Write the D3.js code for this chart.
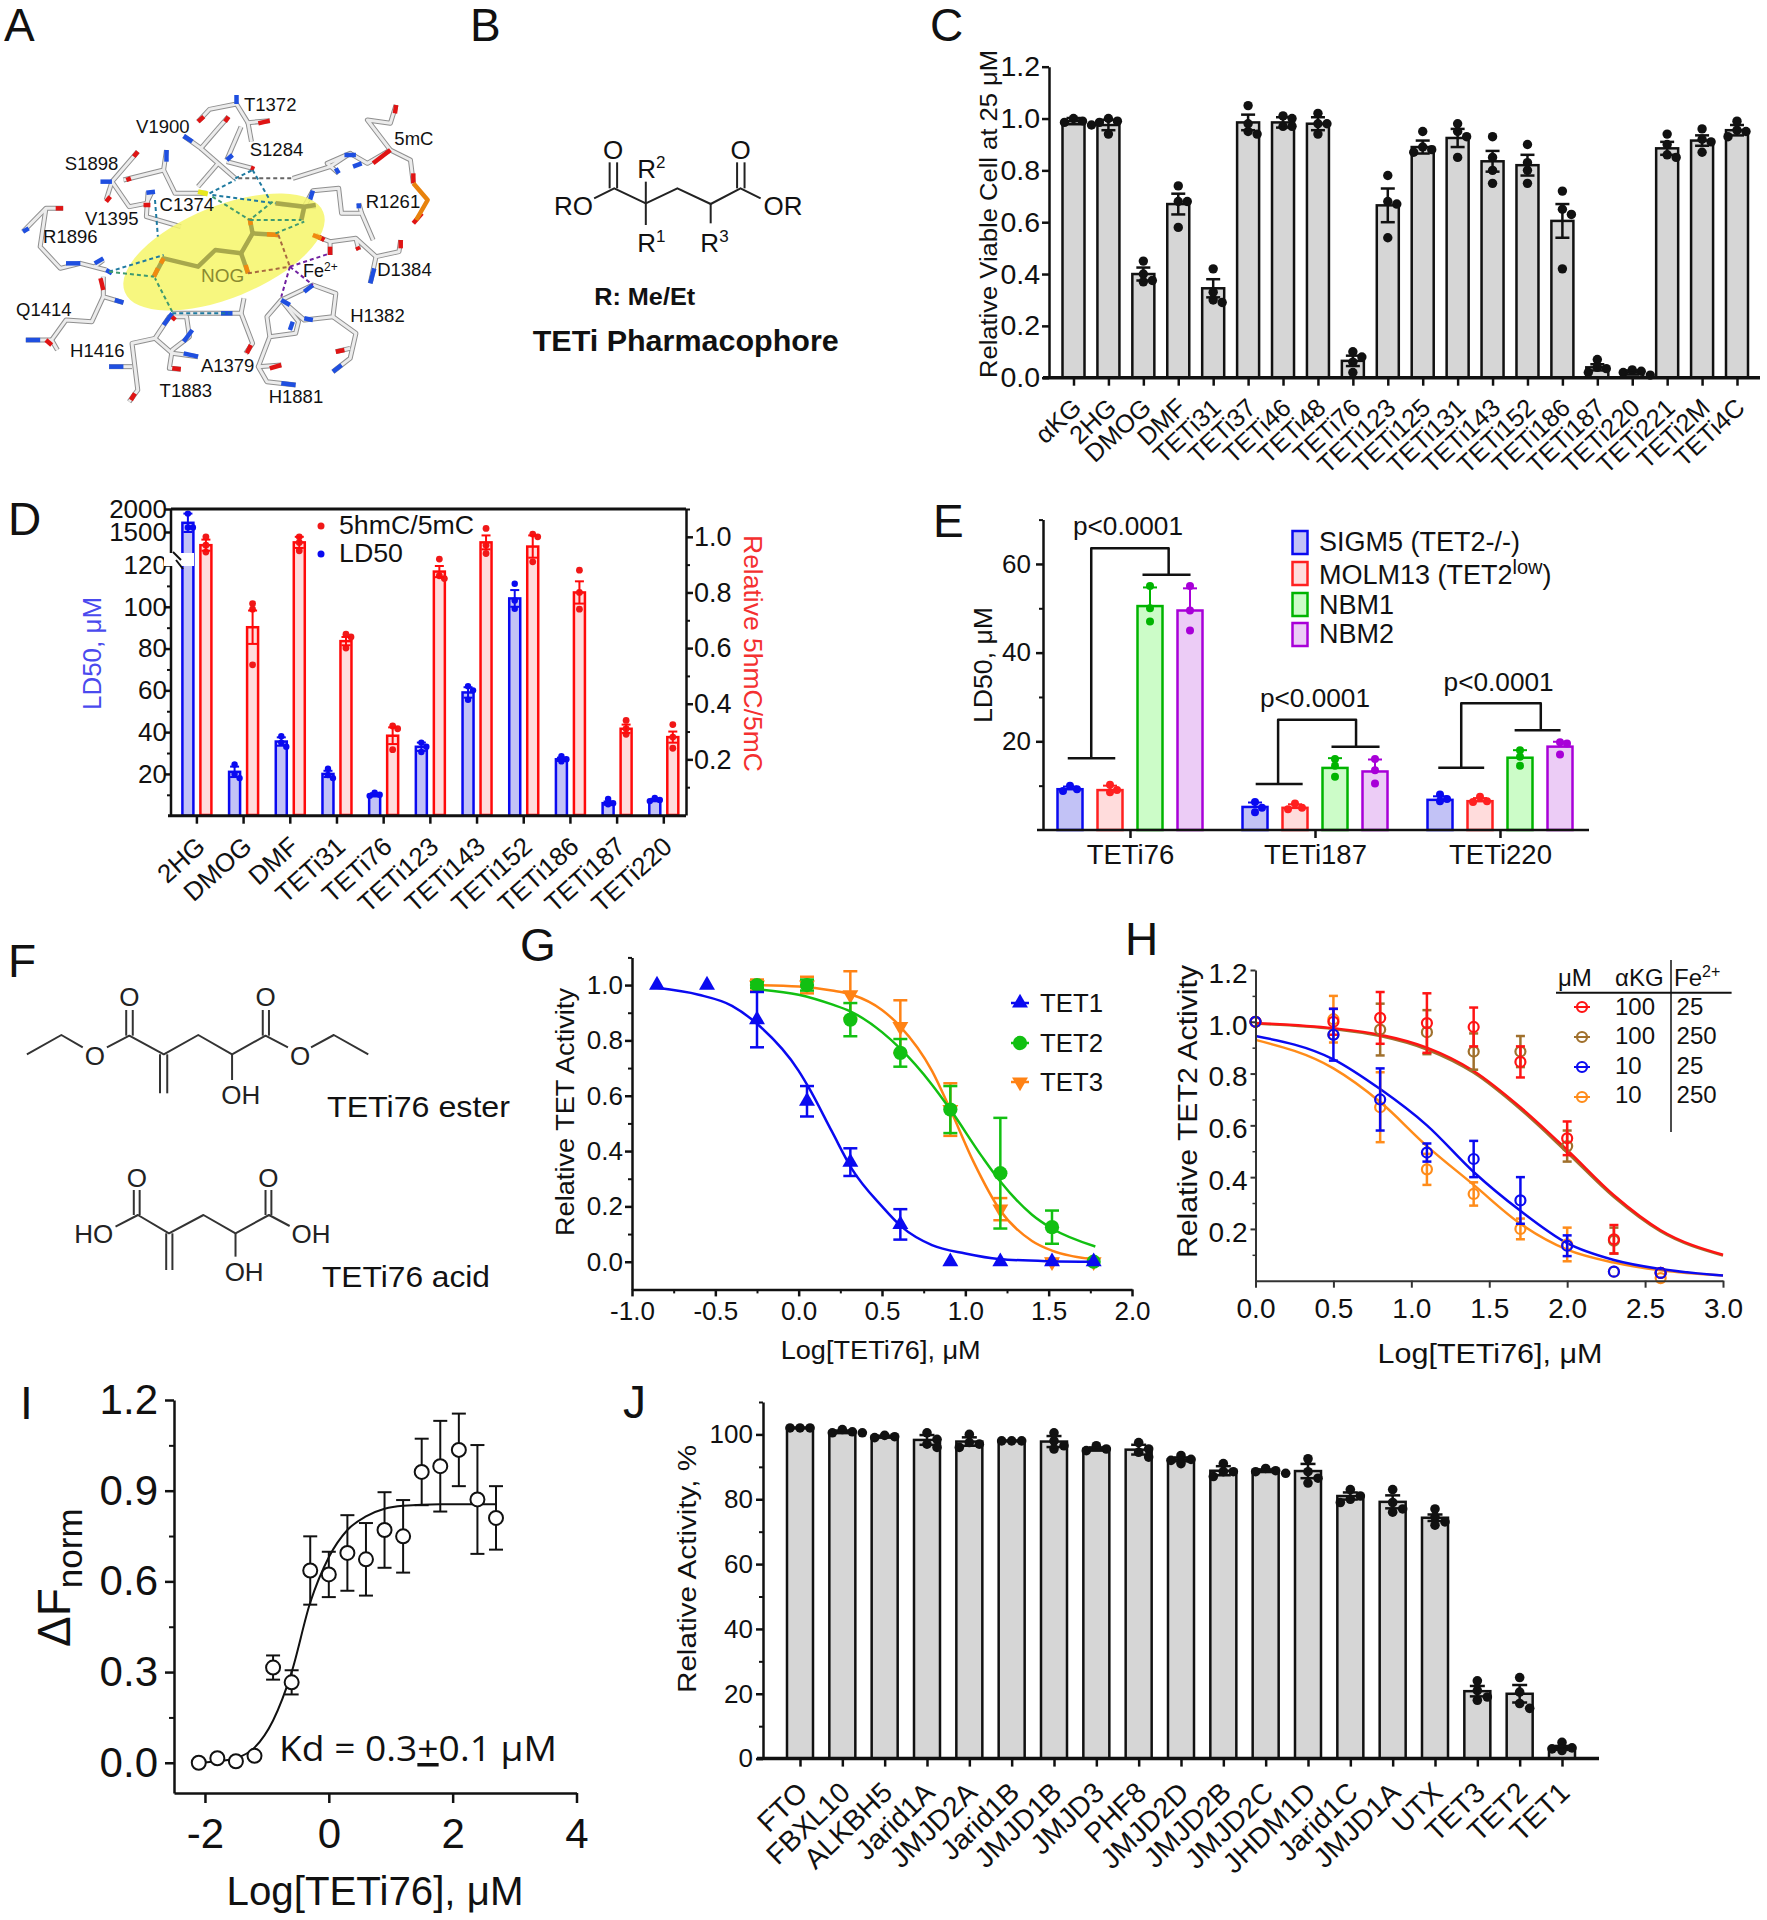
<!DOCTYPE html>
<html><head><meta charset="utf-8">
<style>html,body{margin:0;padding:0;background:#fff}svg{display:block}text{font-family:"Liberation Sans",Arial,sans-serif;fill:#111}</style>
<script src="https://cdn.jsdelivr.net/npm/d3@7/dist/d3.min.js"></script>
</head><body>
<script>
// ---------- DATA ----------
const cCats=["αKG","2HG","DMOG","DMF","TETi31","TETi37","TETi46","TETi48","TETi76","TETi123","TETi125","TETi131","TETi143","TETi152","TETi186","TETi187","TETi220","TETi221","TETi2M","TETi4C"];
const cMeans=[.99,.975,.40,.67,.345,.985,.985,.98,.065,.665,.89,.925,.835,.82,.605,.04,.02,.885,.915,.955];
const cErrs=[.012,.02,.025,.04,.035,.03,.02,.025,.02,.065,.025,.035,.04,.04,.065,.012,.008,.025,.02,.02];
const cPoints=[[1.0,.99,.985,.975],[1.0,.99,.985,.94],[.45,.40,.375,.37],[.74,.68,.68,.58],[.42,.33,.30,.29],[1.05,.98,.95,.94],[1.01,1.0,.97,.97],[1.02,.98,.98,.94],[.10,.08,.06,.02],[.78,.68,.67,.54],[.95,.89,.88,.87],[.98,.95,.93,.85],[.93,.85,.80,.75],[.90,.83,.80,.75],[.72,.65,.63,.42],[.07,.04,.035,.02],[.03,.025,.02,.01],[.94,.90,.86,.85],[.96,.92,.91,.87],[.99,.955,.95,.93]];

const dCats=["2HG","DMOG","DMF","TETi31","TETi76","TETi123","TETi143","TETi152","TETi186","TETi187","TETi220"];
const dLd50=[1700,21,35.5,20,10,33,59,104,27,6,7.5];
const dLd50Err=[200,2.5,2,1.5,.8,2,2.5,4,.8,.8,.6];
const dLd50Pts=[[1900,1600,1600],[24.5,20,18],[38,35,33],[22.5,19.5,18],[11,10,9.5],[35,33,30.5],[62,60,55.5],[111,103,99],[28.5,27,26],[8,6,5.5],[8.5,7.5,7]];
const dRatio=[.97,.675,.98,.625,.285,.875,.98,.965,.80,.31,.28];
const dRatioErr=[.02,.06,.02,.015,.03,.02,.025,.04,.04,.015,.02];
const dRatioPts=[[1.0,.97,.945],[.76,.74,.54],[1.0,.98,.95],[.65,.64,.60],[.32,.31,.235],[.92,.86,.85],[1.03,.97,.94],[1.01,1.0,.91],[.88,.80,.74],[.34,.31,.29],[.325,.28,.24]];

const eGroups=["TETi76","TETi187","TETi220"];
const eSeries=["SIGM5 (TET2-/-)","MOLM13 (TET2","NBM1","NBM2"];
const eMeans=[[9.2,9,50.5,49.5],[5.2,5,14,13.2],[6.8,6.5,16.3,18.8]];
const eErrs=[[.6,1.0,4.2,5.0],[1.0,.8,2.2,2.7],[.8,.7,1.7,1.1]];
const ePts=[[[10,9.2,8.8],[10.2,9,8.5],[55,50,47],[55,49.5,45]],[[6.3,5,4],[6,5,4.7],[16,14.5,12],[16,13.5,10.5]],[[8,7,6.5],[7.5,6.5,6.3],[18,16.5,14.5],[19.8,19.5,17]]];

const gTet1X=[-.85,-.55,-.25,.05,.31,.61,.91,1.21,1.52,1.77];
const gTet1Y=[1,1,.875,.58,.36,.135,0,0,0,0];
const gTet1E=[0,0,.1,.055,.05,.055,0,0,0,0];
const gTet2X=[-.25,.05,.31,.61,.91,1.21,1.52,1.77];
const gTet2Y=[1,1,.875,.755,.55,.32,.125,0];
const gTet2E=[.01,.02,.06,.05,.085,.2,.06,0];
const gTet3Y=[1,1,.965,.85,.55,.19,0,0];
const gTet3E=[.02,.03,.085,.095,.095,.04,.01,0];
const gFit1=[[-.85,.99],[-.6,.965],[-.4,.925],[-.25,.86],[0,.69],[.06,.63],[.2,.47],[.32,.335],[.5,.2],[.62,.125],[.8,.06],[1,.03],[1.2,.01],[1.5,.002],[1.78,0]];
const gFit2=[[-.25,.985],[0,.965],[.2,.93],[.31,.905],[.5,.83],[.61,.77],[.8,.64],[.91,.55],[1.1,.38],[1.21,.29],[1.4,.17],[1.52,.12],[1.78,.055]];
const gFit3=[[-.25,1],[0,.995],[.2,.98],[.32,.965],[.5,.91],[.61,.85],[.8,.69],[.91,.55],[1.05,.36],[1.21,.185],[1.4,.075],[1.52,.04],[1.78,.008]];

const hX=[0,.5,.8,1.1,1.4,1.7,2,2.3,2.6];
const hRedY=[1,1,1.015,.995,.98,.845,.55,.16,.03], hRedE=[0,.05,.1,.115,.075,.06,.065,.055,0];
const hBrownY=[1,.95,.97,.96,.885,.885,.52,.155,.03], hBrownE=[0,0,.1,.085,.07,.06,.06,.05,0];
const hBlueY=[1,.95,.70,.495,.47,.31,.135,.035,.03], hBlueE=[0,.1,.12,.035,.07,.09,.04,0,0];
const hOrangeY=[1,1.01,.67,.43,.335,.2,.14,.035,.01], hOrangeE=[0,.09,.135,.06,.045,.04,.065,0,0];
const hFitX=[0,.5,.8,1.1,1.4,1.7,2,2.3,2.6,3];
const hFitRed=[.995,.975,.95,.9,.81,.67,.505,.33,.195,.1];
const hFitBrown=[.993,.972,.945,.893,.803,.662,.495,.323,.19,.097];
const hFitBlue=[.945,.855,.74,.6,.42,.27,.145,.08,.045,.02];
const hFitOrange=[.93,.82,.69,.52,.37,.22,.12,.07,.04,.02];
const hLegend=[["100","25"],["100","250"],["10","25"],["10","250"]];

const iX=[-2.1,-1.8,-1.5,-1.2,-.9,-.6,-.3,0,.3,.6,.9,1.2,1.5,1.8,2.1,2.4,2.7];
const iY=[0,.015,.005,.023,.315,.266,.636,.623,.694,.673,.77,.749,.962,.981,1.035,.871,.81];
const iE=[0,0,0,0,.04,.04,.113,.075,.125,.12,.125,.12,.11,.15,.12,.18,.105];
const iFit=[[-2.1,0],[-1.8,.005],[-1.5,.015],[-1.2,.05],[-.9,.14],[-.6,.30],[-.3,.53],[0,.68],[.3,.77],[.6,.815],[.9,.84],[1.2,.85],[1.8,.855],[2.7,.855]];

const jCats=["FTO","FBXL10","ALKBH5","Jarid1A","JMJD2A","Jarid1B","JMJD1B","JMJD3","PHF8","JMJD2D","JMJD2B","JMJD2C","JHDM1D","Jarid1C","JMJD1A","UTX","TET3","TET2","TET1"];
const jMeans=[102,100.8,99.3,98.3,97.8,98,97.8,95.5,95.3,92.3,88.8,88.8,88.7,81,79.2,74.3,20.8,20,3.3];
const jErrs=[.1,.4,.3,1.5,1.3,.1,1.7,.5,1.5,.6,1.4,.4,2.2,1.1,2,1,1.6,2.7,.6];
const jPts=[[102,102,102],[101.5,100.8,100.5,100.5],[99.7,99.3,99],[100.5,98.5,97,96],[100,97.5,97,96],[98,98,98],[100.5,98,96.5,95.5],[96.5,95.5,95],[97.5,95.5,94.5,93],[93.5,92.3,92,91],[91,88.5,88.5,87],[89.5,88.8,88.5,88],[92.5,88.5,86.5,85],[83,81,80,79],[83,79,77,76],[77,74.5,73,72],[24,21,19,18],[25,20.5,17,15.5],[5,3.3,3,2.5]];

const panelLetters=[["A",4,41],["B",470,41],["C",930,41],["D",8,535],["E",933,537],["F",8,977],["G",520,961],["H",1125,955],["I",20,1419],["J",623,1418]];

// ---------- HELPERS ----------
const svg=d3.select("body").append("svg").attr("width",1767).attr("height",1920).attr("viewBox","0 0 1767 1920");
svg.append("rect").attr("width",1767).attr("height",1920).attr("fill","#fff");
function T(g,x,y,s,o={}){
  const t=g.append("text").attr("x",0).attr("y",0).text(s)
    .attr("transform",`translate(${x},${y})`+(o.rot?` rotate(${o.rot})`:""))
    .style("font-size",(o.size||26)+"px").attr("text-anchor",o.anchor||"start");
  if(o.fill)t.style("fill",o.fill);
  if(o.weight)t.style("font-weight",o.weight);
  if(o.family)t.style("font-family",o.family);
  if(o.len)t.attr("textLength",o.len).attr("lengthAdjust","spacingAndGlyphs");
  return t;
}
function ax(g,gen,size,w,color){
  g.call(gen);
  g.selectAll("text").style("font-size",size+"px");
  g.selectAll("line").attr("stroke",color||"#111").attr("stroke-width",w||2.5);
  g.selectAll("path").attr("stroke",color||"#111").attr("stroke-width",w||2.5);
  return g;
}
function swarm(vals,y,r,step){
  const placed=[];
  return vals.map(v=>{
    const py=y(v);let off=0,k=0;
    const clash=o=>placed.some(p=>Math.hypot(p[0]-o,p[1]-py)<r*1.5);
    while(clash(off)&&k<8){k++;off=(k%2?1:-1)*Math.ceil(k/2)*step;}
    placed.push([off,py]);return off;
  });
}
function errBar(g,x,y0,y1,cap,color,w){
  g.append("line").attr("x1",x).attr("x2",x).attr("y1",y0).attr("y2",y1).attr("stroke",color).attr("stroke-width",w);
  [y0,y1].forEach(v=>g.append("line").attr("x1",x-cap/2).attr("x2",x+cap/2).attr("y1",v).attr("y2",v).attr("stroke",color).attr("stroke-width",w));
}
function dots(g,x,vals,y,r,color,step){
  const off=swarm(vals,y,r,step);
  vals.forEach((v,i)=>g.append("circle").attr("cx",x+off[i]).attr("cy",y(v)).attr("r",r).attr("fill",color));
}
function poly(g,pts,fx,fy,stroke,w,extra){
  const l=g.append("path").attr("d",d3.line().x(p=>fx(p[0])).y(p=>fy(p[1]))(pts)).attr("fill","none").attr("stroke",stroke).attr("stroke-width",w).attr("stroke-linejoin","round");
  if(extra)l.attr("stroke-dasharray",extra);
  return l;
}
panelLetters.forEach(p=>T(svg,p[1],p[2],p[0],{size:46}));

// ---------- A ----------
(function(){
  const g=svg.append("g"),fx=v=>v/1.742,fy=v=>v/3;
  const sticks=[
   [[345,365],[365,328],[412,312],[432,368],[470,362]],[[432,368],[438,425]],
   [[320,408],[350,445],[380,385],[398,350]],[[350,445],[410,535]],[[380,490],[345,560]],
   [[395,480],[420,380]],[[395,485],[440,505]],
   [[240,455],[195,545],[225,620],[255,610],[265,575]],[[195,545],[185,600]],
   [[215,540],[285,510],[290,450]],[[285,510],[305,580],[360,580]],[[258,575],[255,650],[315,680]],
   [[110,625],[80,625],[40,695]],[[80,625],[70,740],[105,805],[140,790],[185,810]],[[180,780],[165,800]],
   [[180,830],[180,890],[215,908]],[[180,890],[160,965],[115,960],[90,1020],[100,1050]],[[90,1020],[45,1020]],
   [[225,1205],[240,1170],[230,1030],[270,1015],[295,950],[325,950],[330,1010],[300,1050],[295,1105],[315,1108]],
   [[230,1100],[190,1100]],[[270,1015],[300,1060],[345,1070]],
   [[300,940],[420,940],[440,1030],[428,1060]],[[420,940],[425,895]],
   [[515,1155],[465,1145],[450,1100],[490,1095]],[[450,1100],[470,1010],[515,1000],[520,965],[490,900],[465,950],[470,1010]],
   [[490,900],[545,855],[585,880],[580,950],[530,960],[490,900]],[[580,950],[620,1000],[610,1075],[580,1115]],[[610,1045],[585,1055]],
   [[645,850],[655,770],[695,755],[698,720]],[[655,770],[620,715],[575,725],[545,705]],[[575,725],[575,765]],[[620,715],[625,750]],
   [[650,720],[630,640],[595,640],[590,565],[545,572],[530,620],[480,610]],[[530,620],[550,620]],[[530,620],[525,660]],[[630,640],[625,610]],
   [[510,535],[575,500],[610,460],[570,490],[590,520]],[[610,460],[640,490],[680,450],[715,480],[720,550]],[[680,450],[640,360],[680,370],[690,315]]
  ];
  sticks.forEach(s=>poly(g,s,fx,fy,"#8f8f8f",5));
  sticks.forEach(s=>poly(g,s,fx,fy,"#ececec",3));
  const blue=[[412,285,412,312],[320,408,335,425],[290,450,290,485],[175,545,195,545],[270,575,255,578],[40,695,50,685],[115,790,140,790],[180,775,165,790],[185,810,195,820],[215,908,200,900],[45,1020,70,1020],[190,1100,215,1100],[345,1070,320,1060],[320,1025,335,990],[300,940,285,975],[385,940,405,940],[515,1155,490,1150],[490,900,505,915],[545,855,530,875],[545,960,530,955],[510,965,505,990],[580,1115,595,1095],[645,850,652,805],[545,572,540,600],[625,610,625,625],[395,480,405,465],[600,465,620,465],[630,490,615,500],[590,520,585,505]];
  const red=[[345,365,355,350],[470,362,450,370],[398,350,392,365],[437,503,443,507],[240,455,233,470],[185,605,192,590],[220,540,228,535],[250,615,262,615],[110,625,97,625],[175,835,180,870],[300,960,305,950],[315,1108,300,1105],[228,1200,235,1180],[430,1060,437,1035],[490,1095,470,1105],[585,1055,600,1050],[698,720,698,745],[575,765,575,740],[625,750,622,740],[550,705,565,720],[690,315,688,340],[650,490,680,450],[720,520,720,550],[720,670,735,640],[80,1020,90,1035]];
  blue.forEach(s=>poly(g,[[s[0],s[1]],[s[2],s[3]]],fx,fy,"#1f4fe0",4.5));
  red.forEach(s=>poly(g,[[s[0],s[1]],[s[2],s[3]]],fx,fy,"#e01414",4.5));
  poly(g,[[720,550],[745,600],[725,660]],fx,fy,"#e8820c",4.5);
  poly(g,[[345,575],[362,582]],fx,fy,"#e8e820",5);
  g.append("ellipse").attr("transform","translate(224,252) rotate(-22)").attr("rx",107).attr("ry",46).attr("fill","#f6f668").attr("opacity",.85);
  [[[268,830],[285,775],[345,800],[375,750],[420,760],[440,700],[435,655]],[[420,760],[432,820]],[[440,700],[485,705]],[[480,610],[530,620],[550,615]],[[530,620],[525,660]]].forEach(s=>poly(g,s,fx,fy,"#a8a84c",4.5));
  [[268,830,275,805],[432,820,428,795],[485,705,465,703],[435,655,437,675],[285,775,280,790],[545,705,560,715]].forEach(s=>poly(g,[[s[0],s[1]],[s[2],s[3]]],fx,fy,"#f08a10",4.5));
  const dash=(c,l)=>l.forEach(s=>poly(g,[[s[0],s[1]],[s[2],s[3]]],fx,fy,c,2,"4 3"));
  dash("#1f7aa0",[[410,535,440,510],[365,580,410,540],[440,510,470,600],[370,585,480,610],[270,600,275,710],[190,815,285,765],[300,940,400,940]]);
  dash("#3f9a70",[[190,815,268,830],[300,935,270,835],[370,590,435,660],[475,605,435,660],[435,660,525,660],[480,700,530,665]]);
  dash("#a86a40",[[485,705,505,800],[432,820,505,800]]);
  dash("#7020a0",[[505,800,575,760],[505,800,490,890],[505,800,545,855]]);
  dash("#666",[[415,535,510,535]]);
  const labels=[["T1372",425,333],["V1900",237,398],["S1284",435,468],["5mC",687,435],["S1898",113,510],["C1374",278,633],["R1261",637,625],["V1395",148,675],["R1896",75,730],["D1384",657,828],["Q1414",28,947],["H1382",610,965],["H1416",122,1070],["A1379",350,1115],["T1883",278,1192],["H1881",468,1210]];
  labels.forEach(l=>T(g,fx(l[1]),fy(l[2]),l[0],{size:18.5}));
  T(g,fx(350),fy(845),"NOG",{size:19,fill:"#8a8a30"});
  const fe=T(g,fx(528),fy(830),"Fe",{size:18});
  fe.append("tspan").attr("dy",-6).style("font-size","12px").text("2+");
})();

// ---------- B ----------
(function(){
  const g=svg.append("g"),fx=v=>v/1.742,fy=v=>v/3;
  [[[1035,595],[1070,565],[1125,610],[1180,565],[1238,612],[1290,565],[1325,595]],
   [[1062,565],[1062,487]],[[1075,565],[1075,487]],[[1284,565],[1284,487]],[[1297,565],[1297,487]],
   [[1125,610],[1125,545]],[[1125,610],[1125,675]],[[1238,612],[1238,670]]].forEach(s=>poly(g,s,fx,fy,"#222",2));
  T(g,fx(1068),fy(478),"O",{size:26,anchor:"middle"});
  T(g,fx(1290),fy(478),"O",{size:26,anchor:"middle"});
  T(g,fx(965),fy(645),"RO",{size:26});
  T(g,fx(1330),fy(645),"OR",{size:26});
  const sup=(x,y,n)=>{const t=T(g,fx(x),fy(y),"R",{size:26});t.append("tspan").attr("dy",-10).style("font-size","17px").text(n);};
  sup(1110,535,"2");sup(1110,755,"1");sup(1220,755,"3");
  T(g,fx(1035),fy(915),"R: Me/Et",{size:23,weight:"bold",len:101});
  T(g,fx(928),fy(1052),"TETi Pharmacophore",{size:29,weight:"bold",len:306});
})();

// ---------- C ----------
(function(){
  const g=svg.append("g");
  const y=d3.scaleLinear().domain([0,1.2]).range([377.7,66.7]);
  const x=d3.scalePoint().domain(cCats).range([1073.5,1737]);
  cCats.forEach((c,i)=>{
    const cx=x(c);
    g.append("rect").attr("x",cx-11).attr("width",22).attr("y",y(cMeans[i])).attr("height",y(0)-y(cMeans[i])).attr("fill","#d6d6d6").attr("stroke","#111").attr("stroke-width",2.5);
    dots(g,cx,cPoints[i],y,4.7,"#111",9);
    errBar(g,cx,y(cMeans[i]-cErrs[i]),y(cMeans[i]+cErrs[i]),14,"#111",2.5);
  });
  ax(g.append("g").attr("transform","translate(1049,0)"),d3.axisLeft(y).tickValues(d3.range(0,1.21,.2)).tickSize(7).tickSizeOuter(0).tickPadding(2).tickFormat(d=>d.toFixed(1)),28.5,2.5);
  const xa=g.append("g").attr("transform","translate(0,377.7)");
  ax(xa,d3.axisBottom(x).tickSize(8).tickSizeOuter(0),25.5,2.5);
  xa.select("path").attr("d","M1043,0H1760").attr("stroke-width",3.5);
  xa.selectAll("text").attr("text-anchor","end").attr("x",0).attr("y",0).attr("dy",0).attr("transform","translate(9,32) rotate(-43)");
  T(g,997,378,"Relative Viable Cell at 25 μM",{size:23,rot:-90,len:328});
})();

// ---------- D ----------
(function(){
  const g=svg.append("g");
  const low=d3.scaleLinear().domain([0,120]).range([815.7,565]);
  const high=d3.scaleLinear().domain([1000,2000]).range([555,509]);
  const yL=v=>v<=130?low(v):high(v);
  const yR=d3.scaleLinear().domain([0,1.1]).range([815,509]);
  const x=d3.scalePoint().domain(dCats).range([196.4,663.3]);
  const blue="#0a0af0",red="#ff0a0a";
  dCats.forEach((c,i)=>{
    const cx=x(c),bx=cx-8.5,rx=cx+9.5;
    g.append("rect").attr("x",bx-5.5).attr("width",11).attr("y",yL(dLd50[i])).attr("height",yL(0)-yL(dLd50[i])).attr("fill","#c2c2f6").attr("stroke",blue).attr("stroke-width",2.5);
    g.append("rect").attr("x",rx-5.5).attr("width",11).attr("y",yR(dRatio[i])).attr("height",yR(0)-yR(dRatio[i])).attr("fill","#ffdcdc").attr("stroke",red).attr("stroke-width",2.5);
    dots(g,bx,dLd50Pts[i],yL,3.2,blue,5);
    dots(g,rx,dRatioPts[i],yR,3.4,"#f01818",5);
    errBar(g,bx,yL(Math.max(dLd50[i]-dLd50Err[i],1)),yL(dLd50[i]+dLd50Err[i]),9,blue,2);
    errBar(g,rx,yR(dRatio[i]-dRatioErr[i]),yR(dRatio[i]+dRatioErr[i]),9,red,2);
  });
  g.append("line").attr("x1",171).attr("x2",686).attr("y1",509).attr("y2",509).attr("stroke","#111").attr("stroke-width",3);
  g.append("line").attr("x1",171).attr("x2",171).attr("y1",509).attr("y2",815.7).attr("stroke","#111").attr("stroke-width",2.5);
  ax(g.append("g").attr("transform","translate(171,0)"),d3.axisLeft(low).tickValues(d3.range(20,121,20)).tickSize(7).tickSizeOuter(0).tickPadding(-3).tickFormat(d=>String(d)),26,2.5).select("path").remove();
  ax(g.append("g").attr("transform","translate(171,0)"),d3.axisLeft(low).tickValues(d3.range(10,111,20)).tickSize(4).tickSizeOuter(0).tickFormat(""),26,2).select("path").remove();
  ax(g.append("g").attr("transform","translate(171,0)"),d3.axisLeft(high).tickValues([1500,2000]).tickSize(7).tickSizeOuter(0).tickPadding(-3).tickFormat(d=>String(d)),26,2.5).select("path").remove();
  ax(g.append("g").attr("transform","translate(686,0)"),d3.axisRight(yR).tickValues([.2,.4,.6,.8,1]).tickSize(7).tickSizeOuter(0).tickPadding(1).tickFormat(d=>d.toFixed(1)),27,2.5);
  ax(g.append("g").attr("transform","translate(686,0)"),d3.axisRight(yR).tickValues([.1,.3,.5,.7,.9,1.1]).tickSize(4).tickSizeOuter(0).tickFormat(""),26,2).select("path").remove();
  const xa=g.append("g").attr("transform","translate(0,815.7)");
  ax(xa,d3.axisBottom(x).tickSize(8).tickSizeOuter(0),26,2.5);
  xa.select("path").attr("d","M168,0H686").attr("stroke-width",3);
  xa.selectAll("text").attr("text-anchor","end").attr("x",0).attr("y",0).attr("dy",0).attr("transform","translate(10,33) rotate(-42)");
  g.append("rect").attr("x",164).attr("y",553).attr("width",30).attr("height",13).attr("fill","#fff");
  [[[173,552],[181,560]],[[176,560],[183,569]]].forEach(s=>poly(g,s,v=>v,v=>v,"#111",2));
  g.append("circle").attr("cx",321).attr("cy",526).attr("r",3.5).attr("fill","#f01818");
  g.append("circle").attr("cx",321).attr("cy",554).attr("r",3.5).attr("fill",blue);
  T(g,339,534,"5hmC/5mC",{size:26,len:135});
  T(g,339,562,"LD50",{size:26,len:64});
  T(g,101,710,"LD50, μM",{size:26,rot:-90,len:113,fill:"#4a4aee"});
  T(g,744,535,"Relative 5hmC/5mC",{size:26,rot:90,len:237,fill:"#f43030"});
})();

// ---------- E ----------
(function(){
  const g=svg.append("g");
  const y=d3.scaleLinear().domain([0,70]).range([830,519.6]);
  const x=d3.scalePoint().domain(eGroups).range([1130,1500]);
  const sub=d3.scalePoint().domain(d3.range(4)).range([-60,60]);
  const strokes=["#0a0af0","#ff2020","#00b400","#a800d8"],fills=["#c2c2f6","#ffdcdc","#ccfcc8","#ecccf6"];
  eGroups.forEach((c,i)=>{
    d3.range(4).forEach(j=>{
      const cx=x(c)+sub(j),m=eMeans[i][j];
      g.append("rect").attr("x",cx-12.5).attr("width",25).attr("y",y(m)).attr("height",y(0)-y(m)).attr("fill",fills[j]).attr("stroke",strokes[j]).attr("stroke-width",2.5);
      dots(g,cx,ePts[i][j],y,4,strokes[j],7);
      g.append("line").attr("x1",cx).attr("x2",cx).attr("y1",y(m)).attr("y2",y(m+eErrs[i][j])).attr("stroke",strokes[j]).attr("stroke-width",2);
      g.append("line").attr("x1",cx-7).attr("x2",cx+7).attr("y1",y(m+eErrs[i][j])).attr("y2",y(m+eErrs[i][j])).attr("stroke",strokes[j]).attr("stroke-width",2);
    });
  });
  ax(g.append("g").attr("transform","translate(1043,0)"),d3.axisLeft(y).tickValues([20,40,60]).tickSize(7).tickSizeOuter(0).tickPadding(5),26,2.5);
  ax(g.append("g").attr("transform","translate(1043,0)"),d3.axisLeft(y).tickValues([10,30,50,70]).tickSize(4).tickSizeOuter(0).tickFormat(""),26,2).select("path").remove();
  const xa=g.append("g").attr("transform","translate(0,830)");
  ax(xa,d3.axisBottom(x).tickSize(8).tickSizeOuter(0).tickPadding(6.5),27.5,2.5);
  xa.select("path").attr("d","M1037,0H1589").attr("stroke-width",2.5);
  const fx=v=>v/1.873+930,fy=v=>v/3+490;
  [[[[258,805],[347,805]],[[302,805],[302,175],[447,175],[447,254]],[[398,254],[488,254]]],
   [[[610,882],[698,882]],[[652,882],[652,689],[798,689],[798,770]],[[752,770],[842,770]]],
   [[[952,833],[1038,833]],[[995,833],[995,640],[1144,640],[1144,721]],[[1095,721],[1181,721]]]].forEach(b=>b.forEach(s=>poly(g,s,fx,fy,"#111",2.5)));
  [[1128,535],[1315,707],[1498.6,691]].forEach(p=>T(g,p[0],p[1],"p<0.0001",{size:26,anchor:"middle",len:110}));
  [[531,551],[562,584],[593,614],[623,643]].forEach((p,j)=>{
    g.append("rect").attr("x",1292.5).attr("width",15).attr("y",p[0]).attr("height",23).attr("fill",fills[j]).attr("stroke",strokes[j]).attr("stroke-width",2.5);
    const t=T(g,1319,p[1],eSeries[j],{size:27});
    if(j==1){t.append("tspan").attr("dy",-10).style("font-size","20px").text("low");t.append("tspan").attr("dy",10).text(")");}
  });
  T(g,992,723,"LD50, μM",{size:26,rot:-90,len:116});
})();

// ---------- F ----------
(function(){
  const g=svg.append("g"),fx=v=>v/2.9,fy=v=>v/3+940;
  [[[78,343],[178,285],[240,322]],[[310,322],[375,287],[475,343],[575,285],[673,343],[770,287],[835,322]],[[902,322],[968,285],[1068,343]],
   [[366,287],[366,210]],[[385,287],[385,210]],[[762,287],[762,210]],[[780,287],[780,210]],[[464,343],[464,460]],[[485,343],[485,460]],[[673,343],[673,420]],
   [[335,860],[400,825],[490,880],[590,825],[683,880],[780,825],[840,858]],[[388,825],[388,750]],[[405,825],[405,750]],[[770,825],[770,750]],[[787,825],[787,750]],[[482,880],[482,990]],[[500,880],[500,990]],[[683,880],[683,950]]
  ].forEach(s=>poly(g,s,fx,fy,"#333",2));
  [["O",275,375],["O",870,375],["O",375,198],["O",770,198],["OH",698,492],["HO",272,910],["OH",902,910],["OH",708,1022],["O",397,742],["O",778,742]].forEach(l=>T(g,fx(l[1]),fy(l[2]),l[0],{size:26,anchor:"middle",fill:"#222"}));
  T(g,327,1117,"TETi76 ester",{size:30,len:183});
  T(g,322,1287,"TETi76 acid",{size:30,len:168});
})();

// ---------- G ----------
(function(){
  const g=svg.append("g");
  const x=d3.scaleLinear().domain([-1,2]).range([632,1132]);
  const y=d3.scaleLinear().domain([-.1,1.1]).range([1289.4,957.4]);
  const line=d3.line().x(d=>x(d[0])).y(d=>y(d[1])).curve(d3.curveMonotoneX);
  const cols={t1:"#0a0af0",t2:"#12c012",t3:"#ff8214"};
  const sym=(sx,sy,type,c,size,rot)=>g.append("path").attr("d",d3.symbol().type(type).size(size)()).attr("transform",`translate(${sx},${sy})`+(rot?" rotate(180)":"")).attr("fill",c);
  const series=(xs,ys,es,fit,c,type,rot,size)=>{
    g.append("path").attr("d",line(fit)).attr("fill","none").attr("stroke",c).attr("stroke-width",2.5);
    xs.forEach((v,i)=>{ if(es[i]>0) errBar(g,x(v),y(ys[i]-es[i]),y(ys[i]+es[i]),14,c,2.5); });
    xs.forEach((v,i)=>sym(x(v),y(ys[i]),type,c,size,rot));
  };
  series(gTet2X,gTet3Y,gTet3E,gFit3,cols.t3,d3.symbolTriangle,true,110);
  series(gTet2X,gTet2Y,gTet2E,gFit2,cols.t2,d3.symbolCircle,false,160);
  series(gTet1X,gTet1Y,gTet1E,gFit1,cols.t1,d3.symbolTriangle,false,110);
  ax(g.append("g").attr("transform","translate(632,0)"),d3.axisLeft(y).tickValues(d3.range(0,1.01,.2)).tickSize(7).tickSizeOuter(0).tickPadding(2).tickFormat(d=>d.toFixed(1)),26,2.5);
  ax(g.append("g").attr("transform","translate(632,0)"),d3.axisLeft(y).tickValues([.1,.3,.5,.7,.9,1.1]).tickSize(4).tickSizeOuter(0).tickFormat(""),26,2).select("path").remove();
  ax(g.append("g").attr("transform","translate(0,1289.4)"),d3.axisBottom(x).tickValues(d3.range(-1,2.01,.5)).tickSize(7).tickSizeOuter(0).tickPadding(5.5).tickFormat(d=>d.toFixed(1)),26,2.5);
  ax(g.append("g").attr("transform","translate(0,1289.4)"),d3.axisBottom(x).tickValues(d3.range(-.75,1.8,.5)).tickSize(4).tickSizeOuter(0).tickFormat(""),26,2).select("path").remove();
  T(g,880.7,1359,"Log[TETi76], μM",{size:26,anchor:"middle",len:200});
  T(g,574,1236,"Relative TET Activity",{size:25,rot:-90,len:248});
  [["TET1",1003,1012,cols.t1,d3.symbolTriangle,false,110],["TET2",1043,1052,cols.t2,d3.symbolCircle,false,160],["TET3",1082,1091,cols.t3,d3.symbolTriangle,true,110]].forEach(l=>{
    sym(1020,l[1],l[4],l[3],l[6],l[5]);
    g.append("line").attr("x1",1011).attr("x2",1029).attr("y1",l[1]).attr("y2",l[1]).attr("stroke",l[3]).attr("stroke-width",2.5);
    T(g,1040,l[2],l[0],{size:26,len:63});
  });
})();

// ---------- H ----------
(function(){
  const g=svg.append("g");
  const x=d3.scaleLinear().domain([0,3]).range([1255.5,1723]);
  const y=d3.scaleLinear().domain([0,1.2]).range([1280.7,970]);
  const line=d3.line().x((d,i)=>x(hFitX[i])).y(d=>y(d)).curve(d3.curveMonotoneX);
  const cs=["#ff1414","#a0702c","#0a0af0","#ff8c1a"];
  const rows=[[hOrangeY,hOrangeE,hFitOrange,cs[3]],[hBlueY,hBlueE,hFitBlue,cs[2]],[hBrownY,hBrownE,hFitBrown,cs[1]],[hRedY,hRedE,hFitRed,cs[0]]];
  rows.forEach(r=>g.append("path").attr("d",line(r[2])).attr("fill","none").attr("stroke",r[3]).attr("stroke-width",2.5));
  [rows[0],rows[2],rows[3],rows[1]].forEach(r=>{
    hX.forEach((v,i)=>{
      if(r[1][i]>0) errBar(g,x(v),y(Math.max(r[0][i]-r[1][i],0)),y(r[0][i]+r[1][i]),9,r[3],2.5);
      g.append("circle").attr("cx",x(v)).attr("cy",y(r[0][i])).attr("r",5).attr("fill","none").attr("stroke",r[3]).attr("stroke-width",2.2);
    });
  });
  const ya=ax(g.append("g").attr("transform","translate(1255.5,0)"),d3.axisLeft(y).tickValues(d3.range(.2,1.21,.2)).tickSize(5).tickSizeOuter(0).tickPadding(3).tickFormat(d=>d.toFixed(1)),28,2,"#333");
  ya.selectAll("text").attr("dy",".44em");
  ax(g.append("g").attr("transform","translate(1255.5,0)"),d3.axisLeft(y).tickValues([.1,.3,.5,.7,.9,1.1]).tickSize(3).tickSizeOuter(0).tickFormat(""),26,1.5,"#333").select("path").remove();
  ax(g.append("g").attr("transform","translate(0,1280.7)"),d3.axisBottom(x).tickValues(d3.range(0,3.01,.5)).tickSize(7).tickSizeOuter(0).tickPadding(10).tickFormat(d=>d.toFixed(1)),28,2,"#333");
  T(g,1490,1362.7,"Log[TETi76], μM",{size:28,anchor:"middle",len:225});
  T(g,1197,1258,"Relative TET2 Activity",{size:27,rot:-90,len:293});
  g.append("line").attr("x1",1556).attr("x2",1731.6).attr("y1",992.7).attr("y2",992.7).attr("stroke","#111").attr("stroke-width",2);
  g.append("line").attr("x1",1671).attr("x2",1671).attr("y1",960).attr("y2",1132).attr("stroke","#111").attr("stroke-width",1.5);
  T(g,1558,986,"μM",{size:24});
  T(g,1615,986,"αKG",{size:24});
  T(g,1674,986,"Fe",{size:24}).append("tspan").attr("dy",-9).style("font-size","16px").text("2+");
  hLegend.forEach((l,i)=>{
    const my=[1007,1037,1067,1097][i],by=[1015,1044,1074,1103][i];
    g.append("line").attr("x1",1574).attr("x2",1590).attr("y1",my).attr("y2",my).attr("stroke",cs[i]).attr("stroke-width",2);
    g.append("circle").attr("cx",1582).attr("cy",my).attr("r",5).attr("fill","none").attr("stroke",cs[i]).attr("stroke-width",2.2);
    T(g,1615,by,l[0],{size:24});
    T(g,1676.6,by,l[1],{size:24});
  });
})();

// ---------- I ----------
(function(){
  const g=svg.append("g");
  const x=d3.scaleLinear().domain([-2.5,4]).range([174,576.5]);
  const y=d3.scaleLinear().domain([-.1,1.2]).range([1793,1400]);
  g.append("path").attr("d",d3.line().x(d=>x(d[0])).y(d=>y(d[1])).curve(d3.curveMonotoneX)(iFit)).attr("fill","none").attr("stroke","#111").attr("stroke-width",2);
  iX.forEach((v,i)=>{ if(iE[i]>0) errBar(g,x(v),y(iY[i]-iE[i]),y(iY[i]+iE[i]),14,"#111",2); });
  iX.forEach((v,i)=>g.append("circle").attr("cx",x(v)).attr("cy",y(iY[i])).attr("r",7).attr("fill","#fff").attr("stroke","#111").attr("stroke-width",2));
  ax(g.append("g").attr("transform","translate(174,0)"),d3.axisLeft(y).tickValues([0,.3,.6,.9,1.2]).tickSize(9).tickSizeOuter(0).tickPadding(7).tickFormat(d=>d.toFixed(1)),42,2.5);
  ax(g.append("g").attr("transform","translate(174,0)"),d3.axisLeft(y).tickValues([.15,.45,.75,1.05]).tickSize(5).tickSizeOuter(0).tickFormat(""),26,2).select("path").remove();
  ax(g.append("g").attr("transform","translate(0,1793)"),d3.axisBottom(x).tickValues([-2,0,2,4]).tickSize(10).tickSizeOuter(0).tickPadding(15).tickFormat(d=>d<0?"-"+Math.abs(d):d),42,2.5);
  T(g,375,1905,"Log[TETi76], μM",{size:40,anchor:"middle",len:297});
  const yl=T(g,70,1647,"ΔF",{size:46,rot:-90});
  yl.append("tspan").attr("dy",12).style("font-size","35px").text("norm");
  const kd=T(g,279,1761,"Kd = 0.3",{size:35,family:"Open Sans",len:278});
  kd.append("tspan").style("text-decoration","underline").text("+");
  kd.append("tspan").text("0.1 μM");
})();

// ---------- J ----------
(function(){
  const g=svg.append("g");
  const y=d3.scaleLinear().domain([0,110]).range([1758.6,1402]);
  const x=d3.scalePoint().domain(jCats).range([800,1562]);
  jCats.forEach((c,i)=>{
    const cx=x(c);
    g.append("rect").attr("x",cx-13).attr("width",26).attr("y",y(jMeans[i])).attr("height",y(0)-y(jMeans[i])).attr("fill","#d6d6d6").attr("stroke","#111").attr("stroke-width",2.5);
    dots(g,cx,jPts[i],y,4.8,"#111",10);
    errBar(g,cx,y(jMeans[i]-jErrs[i]),y(jMeans[i]+jErrs[i]),15,"#111",2.5);
  });
  ax(g.append("g").attr("transform","translate(763,0)"),d3.axisLeft(y).tickValues(d3.range(0,101,20)).tickSize(7).tickSizeOuter(0).tickPadding(3),26,2.5);
  ax(g.append("g").attr("transform","translate(763,0)"),d3.axisLeft(y).tickValues(d3.range(10,111,20)).tickSize(4).tickSizeOuter(0).tickFormat(""),26,2).select("path").remove();
  const xa=g.append("g").attr("transform","translate(0,1758.6)");
  ax(xa,d3.axisBottom(x).tickSize(8).tickSizeOuter(0),28.5,2.5);
  xa.select("path").attr("d","M757,0H1599").attr("stroke-width",3.5);
  xa.selectAll("text").attr("text-anchor","end").attr("x",0).attr("y",0).attr("dy",0).attr("transform","translate(9,36) rotate(-44)");
  T(g,696,1693,"Relative Activity, %",{size:25,rot:-90,len:248});
})();
</script>
</body></html>
